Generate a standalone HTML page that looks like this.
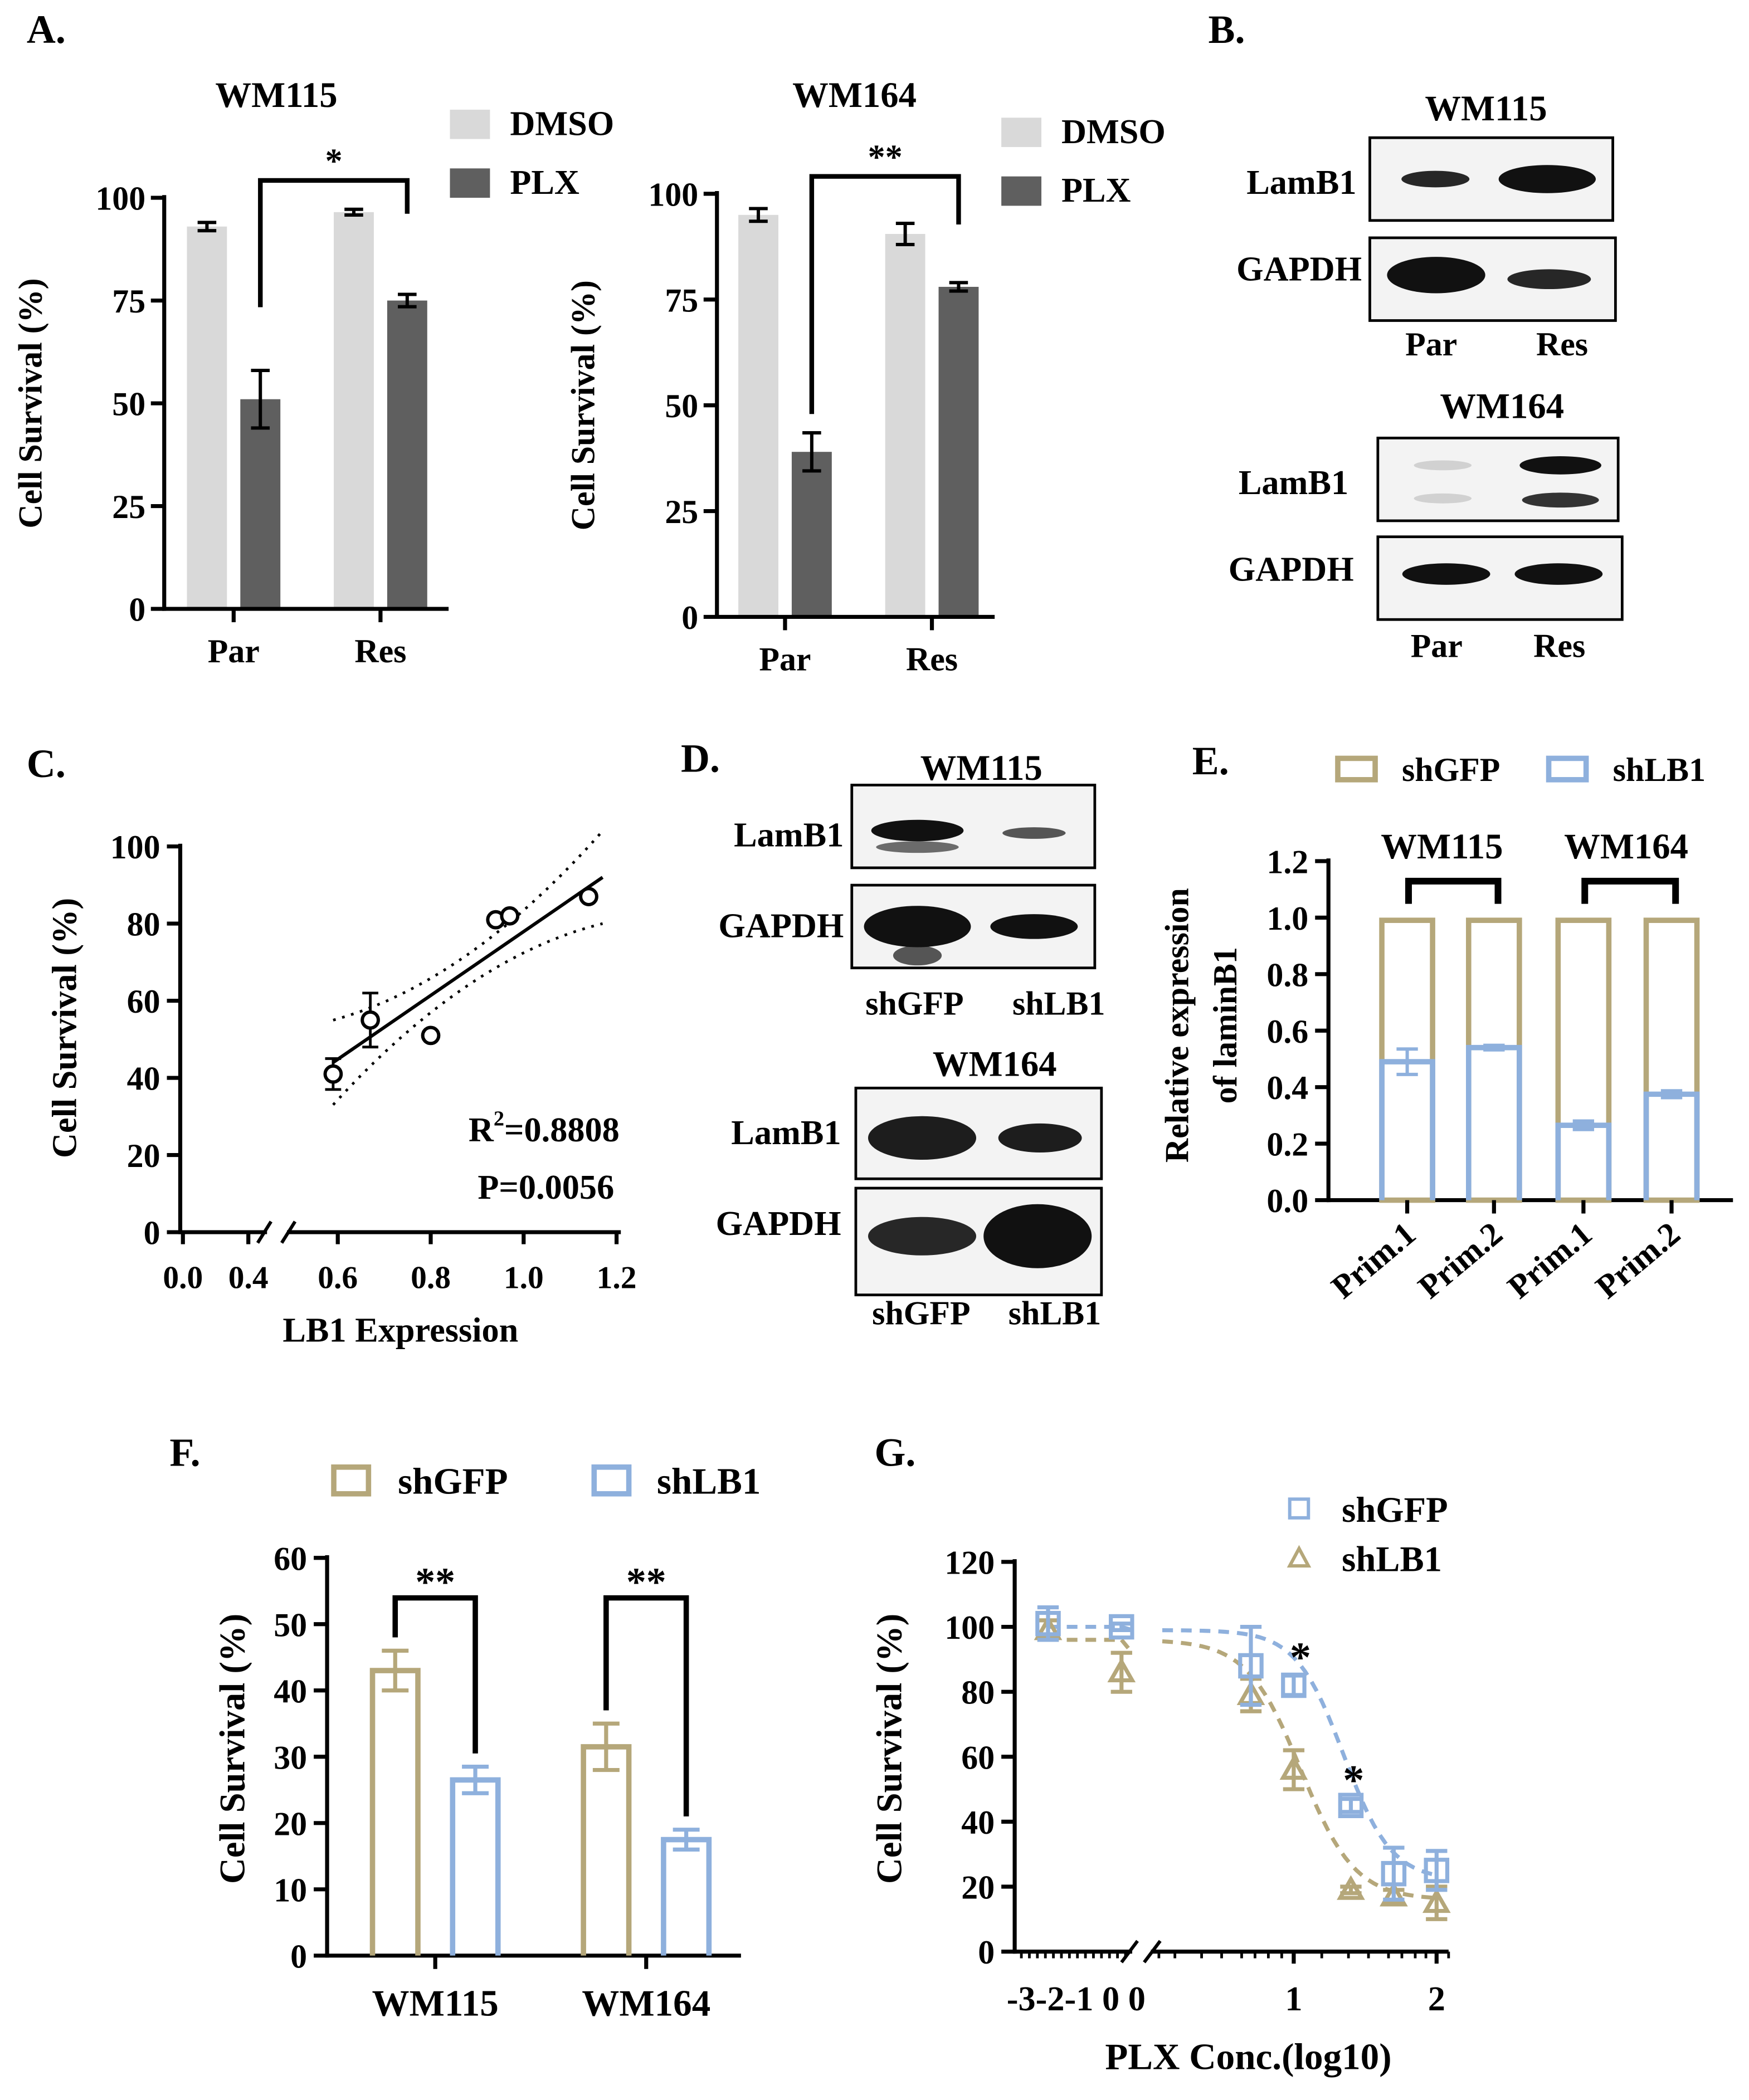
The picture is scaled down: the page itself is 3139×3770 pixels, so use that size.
<!DOCTYPE html>
<html><head><meta charset="utf-8"><style>
html,body{margin:0;padding:0;background:#fff}
svg{display:block}
text{font-family:"Liberation Serif","DejaVu Serif",serif;font-weight:bold;fill:#000}
</style></head><body>
<svg id="fig" width="3139" height="3770" viewBox="0 0 1310 1573" xmlns="http://www.w3.org/2000/svg"></svg>
<script>
// ---- Panel A data ----
const aGroups = ["Par","Res"];
const a1Dmso = [93, 96.5], a1DmsoErr = [1, 0.7];
const a1Plx = [51, 75], a1PlxErr = [7, 1.5];
const a2Dmso = [95, 90.5], a2DmsoErr = [1.5, 2.5];
const a2Plx = [39, 78], a2PlxErr = [4.5, 1];
const aTicks = [0,25,50,75,100];
// ---- Panel C data ----
const cX = [0.59,0.67,0.80,0.94,0.97,1.14];
const cY = [41,55,51,81,82,87];
const cErr = [4,7,1,1,1,1];
const cTicksY = [0,20,40,60,80,100];
const cTicksX = ["0.6","0.8","1.0","1.2"];
// ---- Panel E data ----
const eLabels = ["Prim.1","Prim.2","Prim.1","Prim.2"];
const eGfp = [1,1,1,1];
const eLb1 = [0.49,0.54,0.265,0.375];
const eLb1Err = [0.045,0.008,0.015,0.012];
const eTicks = ["0.0","0.2","0.4","0.6","0.8","1.0","1.2"];
// ---- Panel F data ----
const fGroups = ["WM115","WM164"];
const fGfp = [43,31.5], fGfpErr = [3,3.5];
const fLb1 = [26.5,17.5], fLb1Err = [2,1.5];
const fTicks = [0,10,20,30,40,50,60];
// ---- Panel G data ----
const gX = [-3,-1,0.7,1,1.4,1.7,2];
const gGfp = [101,100,88,82,45,24,25], gGfpErr = [5,1,12,3,2,8,6];
const gLb1 = [99,86,79,56,19,17,15], gLb1Err = [3,6,5,6,1,2,5];
const gTicks = [0,20,40,60,80,100,120];

const svg=document.getElementById('fig');
const NS='http://www.w3.org/2000/svg';
function el(tag,attrs,parent){const e=document.createElementNS(NS,tag);for(const k in attrs)e.setAttribute(k,attrs[k]);(parent||svg).appendChild(e);return e;}
function txt(s,x,y,size,anchor,parent,rot){const t=el('text',{x:x,y:y,'font-size':size,'text-anchor':anchor||'middle','font-family':'Liberation Serif, DejaVu Serif, serif','font-weight':'bold'},parent);if(rot)t.setAttribute('transform','rotate('+rot+' '+x+' '+y+')');t.textContent=s;return t;}
function grp(name){const g=el('g',{});return g;}
function line(x1,y1,x2,y2,g,w,c,dash){const l=el('line',{x1:x1,y1:y1,x2:x2,y2:y2,stroke:c||'#000','stroke-width':w||3},g);if(dash)l.setAttribute('stroke-dasharray',dash);return l;}
function errbar(x,y1,y2,hw,g,c,w){line(x,y1,x,y2,g,w||2.5,c);line(x-hw,y1,x+hw,y1,g,w||2.5,c);line(x-hw,y2,x+hw,y2,g,w||2.5,c);}

// Panel letters
[["A.",20,32],["B.",905,32],["C.",20,582],["D.",510,578],["E.",893,580],["F.",127,1098],["G.",655,1098]].forEach(p=>{const t=txt(p[0],p[1],p[2],30,'start');});

// ---- Panel A bar charts ----
function panelA(name,title,tx,ax,y0,y100,xEnd,dm,dmE,pl,plE,bx,legX,legY,star,brk){
  const g=grp(name);
  const Y=v=>y0-(y0-y100)*v/100;
  txt(title,tx,80,27,'middle',g);
  for(let i=0;i<2;i++){
    const d=el('rect',{x:bx[i],y:Y(dm[i]),width:30,height:y0-Y(dm[i]),fill:'#d9d9d9'},g);
    
    errbar(bx[i]+15,Y(dm[i]+dmE[i]),Y(dm[i]-dmE[i]),7,g);
    const p=el('rect',{x:bx[i]+40,y:Y(pl[i]),width:30,height:y0-Y(pl[i]),fill:'#5f5f5f'},g);
    
    errbar(bx[i]+55,Y(pl[i]+plE[i]),Y(pl[i]-plE[i]),7,g);
    line(bx[i]+35,y0,bx[i]+35,y0+10,g,3);
    txt(aGroups[i],bx[i]+35,y0+40,25,'middle',g);
  }
  line(ax,y100-2,ax,y0+1.5,g,3);line(ax-1.5,y0,xEnd,y0,g,3);
  aTicks.forEach(t=>{line(ax-10,Y(t),ax,Y(t),g,3);txt(String(t),ax-14,Y(t)+9,25,'end',g);});
  txt('Cell Survival (%)',ax-92,(y0+y100)/2,25,'middle',g,-90);
  const x1=bx[0]+55,x2=bx[1]+55;
  el('polyline',{points:x1+','+(brk[1])+' '+x1+','+brk[0]+' '+x2+','+brk[0]+' '+x2+','+brk[2],fill:'none',stroke:'#000','stroke-width':3.5},g);
  txt(star,(x1+x2)/2,brk[0]-6,26,'middle',g);
  const lg=grp(name+'-legend');
  el('rect',{x:legX,y:legY,width:30,height:22,fill:'#d9d9d9'},lg);txt('DMSO',legX+45,legY+19,26,'start',lg);
  el('rect',{x:legX,y:legY+44,width:30,height:22,fill:'#5f5f5f'},lg);txt('PLX',legX+45,legY+63,26,'start',lg);
}
panelA('chart-a-wm115','WM115',207,123,456,148,336,a1Dmso,a1DmsoErr,a1Plx,a1PlxErr,[140,250],337,82,'*',[135,230,160]);
panelA('chart-a-wm164','WM164',640,537,462,145,745,a2Dmso,a2DmsoErr,a2Plx,a2PlxErr,[553,663],750,88,'**',[132,310,168]);

// ---- Western blots ----
function blot(name,x,y,w,h,bands,g){
  const b=el('g',{},g);
  el('rect',{x:x,y:y,width:w,height:h,fill:'#f3f3f3',stroke:'#000','stroke-width':2},b);
  bands.forEach(bd=>{el('ellipse',{cx:x+w*bd[0],cy:y+h*bd[1],rx:w*bd[2],ry:h*bd[3],fill:'#111','fill-opacity':bd[4]},b);});
}
const gb=grp('panel-b-blots');
txt('WM115',1113,90,27,'middle',gb);
blot('blot-wm115-lamb1',1026,103,182,62,[[0.27,0.5,0.14,0.1,0.9],[0.73,0.5,0.2,0.17,1]],gb);
blot('blot-wm115-gapdh',1026,178,184,62,[[0.27,0.45,0.2,0.22,1],[0.73,0.5,0.17,0.12,0.9]],gb);
txt('LamB1',1016,145,26,'end',gb);txt('GAPDH',1020,210,26,'end',gb);
txt('Par',1072,266,25,'middle',gb);txt('Res',1170,266,25,'middle',gb);
txt('WM164',1125,313,27,'middle',gb);
blot('blot-wm164-lamb1',1032,328,180,62,[[0.27,0.33,0.12,0.06,0.15],[0.27,0.73,0.12,0.06,0.15],[0.76,0.33,0.17,0.11,1],[0.76,0.75,0.16,0.09,0.85]],gb);
blot('blot-wm164-gapdh',1032,402,183,62,[[0.28,0.45,0.18,0.13,1],[0.74,0.45,0.18,0.13,1]],gb);
txt('LamB1',1010,370,26,'end',gb);txt('GAPDH',1014,435,26,'end',gb);
txt('Par',1076,492,25,'middle',gb);txt('Res',1168,492,25,'middle',gb);

const gd=grp('panel-d-blots');
txt('WM115',735,584,27,'middle',gd);
blot('blot-d-wm115-lamb1',638,588,182,62,[[0.27,0.55,0.19,0.13,1],[0.27,0.75,0.17,0.07,0.6],[0.75,0.58,0.13,0.07,0.7]],gd);
blot('blot-d-wm115-gapdh',638,663,182,62,[[0.27,0.5,0.22,0.25,1],[0.27,0.85,0.1,0.12,0.7],[0.75,0.5,0.18,0.15,1]],gd);
txt('LamB1',632,634,26,'end',gd);txt('GAPDH',632,702,26,'end',gd);
txt('shGFP',685,760,25,'middle',gd);txt('shLB1',793,760,25,'middle',gd);
txt('WM164',745,806,27,'middle',gd);
blot('blot-d-wm164-lamb1',641,815,184,68,[[0.27,0.55,0.22,0.24,0.95],[0.75,0.55,0.17,0.16,0.95]],gd);
blot('blot-d-wm164-gapdh',641,890,184,80,[[0.27,0.45,0.22,0.18,0.9],[0.74,0.45,0.22,0.3,1]],gd);
txt('LamB1',630,857,26,'end',gd);txt('GAPDH',630,925,26,'end',gd);
txt('shGFP',690,992,25,'middle',gd);txt('shLB1',790,992,25,'middle',gd);

// ---- Panel C scatter ----
(function(){
  const g=grp('chart-c-scatter');
  const y0=923,y100=634;const Y=v=>y0-(y0-y100)*v/100;const X=v=>253+(v-0.6)*348;
  line(135,y100-2,135,y0+1.5,g,3);line(134,y0,200,y0,g,3);line(215,y0,465,y0,g,3);
  line(193,y0+8,203,y0-8,g,2.5);line(211,y0+8,221,y0-8,g,2.5);
  cTicksY.forEach(t=>{line(125,Y(t),135,Y(t),g,3);txt(String(t),120,Y(t)+9,25,'end',g);});
  line(137,y0,137,y0+9,g,3);txt('0.0',137,y0+42,24,'middle',g);
  line(186,y0,186,y0+9,g,3);txt('0.4',186,y0+42,24,'middle',g);
  cTicksX.forEach(t=>{const x=X(parseFloat(t));line(x,y0,x,y0+9,g,3);txt(t,x,y0+42,24,'middle',g);});
  txt('LB1 Expression',300,1005,26,'middle',g);
  txt('Cell Survival (%)',57,770,26,'middle',g,-90);
  const fx=[0.59,1.17];const fy=fx.map(v=>44+(v-0.59)*(48/0.58));
  const fl=line(X(fx[0]),Y(fy[0]),X(fx[1]),Y(fy[1]),g,2.5);
  let up='',lo='';for(let i=0;i<=20;i++){const v=0.59+i*0.029;const m=44+(v-0.59)*(48/0.58);const d=4+Math.pow((v-0.87)/0.3,2)*8;up+=X(v)+','+Y(m+d)+' ';lo+=X(v)+','+Y(m-d)+' ';}
  el('polyline',{points:up,fill:'none',stroke:'#000','stroke-width':2,'stroke-dasharray':'2,5'},g);
  el('polyline',{points:lo,fill:'none',stroke:'#000','stroke-width':2,'stroke-dasharray':'2,5'},g);
  cX.forEach((v,i)=>{if(cErr[i]>2)errbar(X(v),Y(cY[i]+cErr[i]),Y(cY[i]-cErr[i]),6,g,'#000',2);
    const c=el('circle',{cx:X(v),cy:Y(cY[i]),r:6,fill:'#fff',stroke:'#000','stroke-width':2.5},g);
    });
  const r=el('text',{x:464,y:855,'font-size':26,'text-anchor':'end'},g);r.innerHTML='R<tspan font-size="16" dy="-12">2</tspan><tspan dy="12">=0.8808</tspan>';
  txt('P=0.0056',460,898,26,'end',g);
})();

// ---- Panel E stacked bars ----
(function(){
  const g=grp('chart-e-stacked');
  const gold='#b5a77a',blue='#8eb0dd';
  const y0=899,ytop=645;const Y=v=>y0-(y0-ytop)*v/1.2;
  const bx=[1033,1098,1165,1231];
  line(995,ytop-2,995,y0+1.5,g,3);line(994,y0,1298,y0,g,3);
  eTicks.forEach(t=>{const y=Y(parseFloat(t));line(985,y,995,y,g,3);txt(t,980,y+9,25,'end',g);});
  eLabels.forEach((l,i)=>{
    const x=bx[i]+21;
    const a=el('rect',{x:bx[i]+2,y:Y(eGfp[i])+2,width:38,height:y0-Y(eGfp[i])-2,fill:'none',stroke:gold,'stroke-width':4},g);
    
    const b=el('polyline',{points:(bx[i]+2)+','+y0+' '+(bx[i]+2)+','+Y(eLb1[i])+' '+(bx[i]+40)+','+Y(eLb1[i])+' '+(bx[i]+40)+','+y0,fill:'none',stroke:blue,'stroke-width':4},g);
    
    errbar(x,Y(eLb1[i]+eLb1Err[i]),Y(eLb1[i]-eLb1Err[i]),8,g,blue,2.5);
    line(x,y0,x,y0+10,g,3);
    txt(l,x+8,y0+28,25,'end',g,-40);
  });
  txt('WM115',1080,643,27,'middle',g);txt('WM164',1218,643,27,'middle',g);
  el('polyline',{points:'1055,677 1055,660 1122,660 1122,677',fill:'none',stroke:'#000','stroke-width':5},g);
  el('polyline',{points:'1187,677 1187,660 1255,660 1255,677',fill:'none',stroke:'#000','stroke-width':5},g);
  txt('Relative expression',890,768,25,'middle',g,-90);txt('of laminB1',926,768,25,'middle',g,-90);
  el('rect',{x:1002,y:568,width:28,height:16,fill:'none',stroke:gold,'stroke-width':4},g);txt('shGFP',1050,585,25,'start',g);
  el('rect',{x:1160,y:568,width:28,height:16,fill:'none',stroke:blue,'stroke-width':4},g);txt('shLB1',1208,585,25,'start',g);
})();

// ---- Panel F bars ----
(function(){
  const g=grp('chart-f-bars');
  const gold='#b5a77a',blue='#8eb0dd';
  const y0=1465,ytop=1167;const Y=v=>y0-(y0-ytop)*v/60;
  const bx=[277,435];
  line(245,ytop-2,245,y0+1.5,g,3);line(244,y0,555,y0,g,3);
  fTicks.forEach(t=>{line(235,Y(t),245,Y(t),g,3);txt(String(t),230,Y(t)+9,25,'end',g);});
  fGroups.forEach((n,i)=>{
    const a=el('polyline',{points:(bx[i]+2)+','+y0+' '+(bx[i]+2)+','+Y(fGfp[i])+' '+(bx[i]+36)+','+Y(fGfp[i])+' '+(bx[i]+36)+','+y0,fill:'none',stroke:gold,'stroke-width':4},g);
    
    errbar(bx[i]+19,Y(fGfp[i]+fGfpErr[i]),Y(fGfp[i]-fGfpErr[i]),10,g,gold,3);
    const b=el('polyline',{points:(bx[i]+62)+','+y0+' '+(bx[i]+62)+','+Y(fLb1[i])+' '+(bx[i]+96)+','+Y(fLb1[i])+' '+(bx[i]+96)+','+y0,fill:'none',stroke:blue,'stroke-width':4},g);
    
    errbar(bx[i]+79,Y(fLb1[i]+fLb1Err[i]),Y(fLb1[i]-fLb1Err[i]),10,g,blue,3);
    const cx=bx[i]+49;line(cx,y0,cx,y0+10,g,3);txt(n,cx,1510,28,'middle',g);
    const x1=bx[i]+19,x2=bx[i]+79;
    el('polyline',{points:x1+','+Y(fGfp[i]+fGfpErr[i]+2)+' '+x1+','+1197+' '+x2+','+1197+' '+x2+','+Y(fLb1[i]+fLb1Err[i]+2),fill:'none',stroke:'#000','stroke-width':4},g);
    txt('**',(x1+x2)/2,1195,30,'middle',g);
  });
  txt('Cell Survival (%)',183,1310,27,'middle',g,-90);
  el('rect',{x:250,y:1099,width:26,height:20,fill:'none',stroke:gold,'stroke-width':4},g);txt('shGFP',298,1119,28,'start',g);
  el('rect',{x:445,y:1099,width:26,height:20,fill:'none',stroke:blue,'stroke-width':4},g);txt('shLB1',492,1119,28,'start',g);
})();

// ---- Panel G dose-response ----
(function(){
  const g=grp('chart-g-dose');
  const gold='#b5a77a',blue='#8eb0dd';
  const y0=1462,ytop=1170;const Y=v=>y0-(y0-ytop)*v/120;
  const XL=v=>785+(v+3)*27.5;
  const XR=v=>862+v*107;
  const px=v=>v<0?XL(v):XR(v);
  line(760,ytop-2,760,y0+1.5,g,3);line(759,y0,848,y0,g,3);line(862,y0,1085,y0,g,3);
  line(840,y0+8,852,y0-8,g,2.5);line(857,y0+8,869,y0-8,g,2.5);
  gTicks.forEach(t=>{line(750,Y(t),760,Y(t),g,3);txt(String(t),745,Y(t)+9,25,'end',g);});
  for(let x=765;x<845;x+=6)line(x,y0,x,y0+5,g,2);
  [868,880,900,915,930,940,950,960,990,1010,1025,1040,1050,1060,1068,1085].forEach(x=>line(x,y0,x,y0+5,g,2));
  txt('-3-2-1 0 0',806,1506,26,'middle',g);txt('1',XR(1),1506,26,'middle',g);txt('2',XR(2),1506,26,'middle',g);
  line(XR(1),y0,XR(1),y0+9,g,3);line(XR(2),y0,XR(2),y0+9,g,3);
  txt('PLX Conc.(log10)',935,1550,28,'middle',g);
  txt('Cell Survival (%)',675,1310,27,'middle',g,-90);
  function curve(top,bot,ic,h,c,name,ltop,lend){
    let p='';for(let v=0.08;v<=2.02;v+=0.04){const y=bot+(top-bot)/(1+Math.pow(10,(v-ic)*h));p+=XR(v)+','+Y(y)+' ';}
    const pl=el('polyline',{points:p,fill:'none',stroke:c,'stroke-width':3,'stroke-dasharray':'8,6'},g);
    
    line(XL(-3),Y(ltop),XL(-1),Y(ltop),g,3,c,'8,6');
    line(XL(-1),Y(ltop),XL(-1)+8,Y(lend),g,3,c,'8,6');
  }
  curve(99,22,1.35,2.6,blue,'fit-curve-shgfp',100,99);
  curve(96,16,1.05,2.3,gold,'fit-curve-shlb1',96,92);
  gX.forEach((v,i)=>{
    const x=px(v);
    errbar(x,Y(gLb1[i]+gLb1Err[i]),Y(gLb1[i]-gLb1Err[i]),8,g,gold,3);
    const t=el('polygon',{points:(x)+','+(Y(gLb1[i])-8)+' '+(x-8)+','+(Y(gLb1[i])+6)+' '+(x+8)+','+(Y(gLb1[i])+6),fill:'none',stroke:gold,'stroke-width':3},g);
    
    errbar(x,Y(gGfp[i]+gGfpErr[i]),Y(gGfp[i]-gGfpErr[i]),8,g,blue,3);
    const s=el('rect',{x:x-8,y:Y(gGfp[i])-8,width:16,height:16,fill:'none',stroke:blue,'stroke-width':3},g);
    
  });
  txt('*',XR(1)+5,1252,32,'middle',g);txt('*',XR(1.4)+2,1344,32,'middle',g);
  el('rect',{x:966,y:1123,width:14,height:14,fill:'none',stroke:blue,'stroke-width':2.5},g);txt('shGFP',1005,1140,27,'start',g);
  el('polygon',{points:'973,1160 966,1173 980,1173',fill:'none',stroke:gold,'stroke-width':2.5},g);txt('shLB1',1005,1177,27,'start',g);
})();
</script>
</body></html>
